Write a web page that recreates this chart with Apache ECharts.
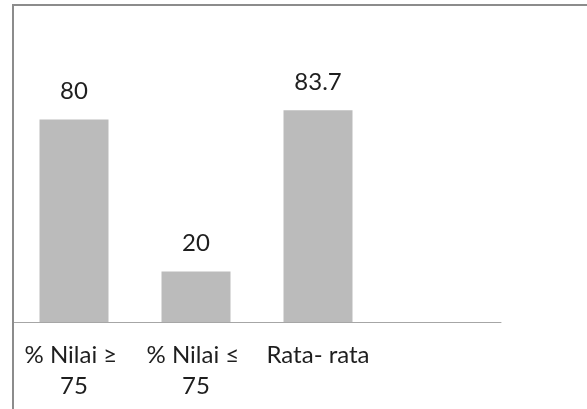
<!DOCTYPE html>
<html>
<head>
<meta charset="utf-8">
<script src="https://cdn.jsdelivr.net/npm/echarts@6/dist/echarts.min.js"></script>
<style>
html,body{margin:0;padding:0;background:#fff;}
#chart{width:587px;height:409px;}
</style>
</head>
<body>
<div id="chart"></div>
<script>
const categories = ["% Nilai ≥ 75", "% Nilai ≤ 75", "Rata- rata", ""];
const values = [80, 20, 83.7, null];

const chart = echarts.init(document.getElementById('chart'), null, {renderer: 'canvas'});
const FONT = 'Lato';
chart.setOption({
  animation: false,
  backgroundColor: '#ffffff',
  graphic: [{
    type: 'rect',
    shape: {x: 13, y: 5, width: 700, height: 600},
    style: {fill: 'none', stroke: '#8c8c8c', lineWidth: 2},
    silent: true,
    z: 100
  }],
  grid: {left: 13, right: 86, top: 69, bottom: 87, containLabel: false},
  xAxis: {
    type: 'category',
    data: categories,
    axisLine: {show: true, lineStyle: {color: '#a6a6a6', width: 1}},
    axisTick: {show: false},
    axisLabel: {
      interval: 0,
      margin: 18,
      color: '#1e1e1e',
      fontFamily: FONT,
      fontSize: 24,
      lineHeight: 31,
      width: 116,
      overflow: 'break',
      align: 'center'
    }
  },
  yAxis: {
    type: 'value',
    min: 0,
    max: 100,
    show: false,
    splitLine: {show: false}
  },
  series: [{
    type: 'bar',
    data: values,
    barWidth: 69,
    itemStyle: {color: '#bbbbbb'},
    label: {
      show: true,
      position: 'top',
      distance: 16,
      color: '#1e1e1e',
      fontFamily: FONT,
      fontSize: 24,
      lineHeight: 24
    }
  }]
});
</script>
</body>
</html>
